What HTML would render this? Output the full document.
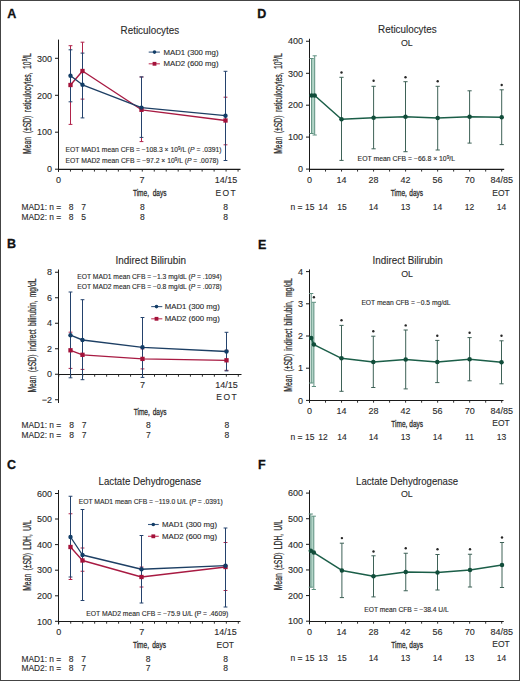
<!DOCTYPE html>
<html><head><meta charset="utf-8"><style>
html,body{margin:0;padding:0;background:#fff;}
body{width:520px;height:681px;overflow:hidden;}
svg{display:block;font-family:"Liberation Sans",sans-serif;}
</style></head><body>
<svg width="520" height="681" viewBox="0 0 520 681">
<rect x="0" y="0" width="520" height="681" fill="#fff"/>
<text x="7.2" y="17.5" font-size="12.5" text-anchor="start" fill="#111" stroke="#111" stroke-width="0.3" font-weight="bold" >A</text>
<text x="6.9" y="248.2" font-size="12.5" text-anchor="start" fill="#111" stroke="#111" stroke-width="0.3" font-weight="bold" >B</text>
<text x="7.0" y="469.0" font-size="12.5" text-anchor="start" fill="#111" stroke="#111" stroke-width="0.3" font-weight="bold" >C</text>
<text x="257.2" y="17.6" font-size="12.5" text-anchor="start" fill="#111" stroke="#111" stroke-width="0.3" font-weight="bold" >D</text>
<text x="258.1" y="248.7" font-size="12.5" text-anchor="start" fill="#111" stroke="#111" stroke-width="0.3" font-weight="bold" >E</text>
<text x="258.1" y="469.4" font-size="12.5" text-anchor="start" fill="#111" stroke="#111" stroke-width="0.3" font-weight="bold" >F</text>
<line x1="58.5" y1="39.6" x2="58.5" y2="171.8" stroke="#1a1a1a" stroke-width="1" />
<line x1="55.0" y1="58.3" x2="58.5" y2="58.3" stroke="#1a1a1a" stroke-width="1" />
<text x="52.0" y="61.5" font-size="9" text-anchor="end" fill="#2b2b2b" stroke="#2b2b2b" stroke-width="0.12" >300</text>
<line x1="55.0" y1="95.3" x2="58.5" y2="95.3" stroke="#1a1a1a" stroke-width="1" />
<text x="52.0" y="98.5" font-size="9" text-anchor="end" fill="#2b2b2b" stroke="#2b2b2b" stroke-width="0.12" >200</text>
<line x1="55.0" y1="132.2" x2="58.5" y2="132.2" stroke="#1a1a1a" stroke-width="1" />
<text x="52.0" y="135.39999999999998" font-size="9" text-anchor="end" fill="#2b2b2b" stroke="#2b2b2b" stroke-width="0.12" >100</text>
<line x1="55.0" y1="169.2" x2="58.5" y2="169.2" stroke="#1a1a1a" stroke-width="1" />
<text x="52.0" y="172.39999999999998" font-size="9" text-anchor="end" fill="#2b2b2b" stroke="#2b2b2b" stroke-width="0.12" >0</text>
<line x1="58.0" y1="169.4" x2="240.5" y2="169.4" stroke="#1a1a1a" stroke-width="1.1" />
<line x1="58.5" y1="169.4" x2="58.5" y2="171.6" stroke="#1a1a1a" stroke-width="0.9" />
<line x1="70.47" y1="169.4" x2="70.47" y2="171.6" stroke="#1a1a1a" stroke-width="0.9" />
<line x1="82.44" y1="169.4" x2="82.44" y2="171.6" stroke="#1a1a1a" stroke-width="0.9" />
<line x1="94.41" y1="169.4" x2="94.41" y2="171.6" stroke="#1a1a1a" stroke-width="0.9" />
<line x1="106.38" y1="169.4" x2="106.38" y2="171.6" stroke="#1a1a1a" stroke-width="0.9" />
<line x1="118.35" y1="169.4" x2="118.35" y2="171.6" stroke="#1a1a1a" stroke-width="0.9" />
<line x1="130.32" y1="169.4" x2="130.32" y2="171.6" stroke="#1a1a1a" stroke-width="0.9" />
<line x1="142.29000000000002" y1="169.4" x2="142.29000000000002" y2="171.6" stroke="#1a1a1a" stroke-width="0.9" />
<line x1="154.26" y1="169.4" x2="154.26" y2="171.6" stroke="#1a1a1a" stroke-width="0.9" />
<line x1="166.23000000000002" y1="169.4" x2="166.23000000000002" y2="171.6" stroke="#1a1a1a" stroke-width="0.9" />
<line x1="178.2" y1="169.4" x2="178.2" y2="171.6" stroke="#1a1a1a" stroke-width="0.9" />
<line x1="190.17000000000002" y1="169.4" x2="190.17000000000002" y2="171.6" stroke="#1a1a1a" stroke-width="0.9" />
<line x1="202.14000000000001" y1="169.4" x2="202.14000000000001" y2="171.6" stroke="#1a1a1a" stroke-width="0.9" />
<line x1="214.11" y1="169.4" x2="214.11" y2="171.6" stroke="#1a1a1a" stroke-width="0.9" />
<line x1="226.08" y1="169.4" x2="226.08" y2="171.6" stroke="#1a1a1a" stroke-width="0.9" />
<line x1="238.05" y1="169.4" x2="238.05" y2="171.6" stroke="#1a1a1a" stroke-width="0.9" />
<text x="120.6" y="34.0" font-size="10.2" text-anchor="start" fill="#2b2b2b" stroke="#2b2b2b" stroke-width="0.12" textLength="58.5" lengthAdjust="spacingAndGlyphs" >Reticulocytes</text>
<text x="30.9" y="153.9" font-size="10" fill="#2b2b2b" stroke="#2b2b2b" stroke-width="0.24" word-spacing="2.42" transform="rotate(-90 30.9 153.9) translate(30.9 153.9) scale(0.68 1) translate(-30.9 -153.9)">Mean (±SD) reticulocytes, 10<tspan dy="-3.40" font-size="6.50">9</tspan><tspan dy="3.40">/L</tspan></text>
<line x1="70.5" y1="45.7" x2="70.5" y2="124.4" stroke="#b0234a" stroke-width="1.0" />
<line x1="68.6" y1="45.7" x2="72.4" y2="45.7" stroke="#b0234a" stroke-width="1.0" />
<line x1="68.6" y1="124.4" x2="72.4" y2="124.4" stroke="#b0234a" stroke-width="1.0" />
<line x1="82.5" y1="42.2" x2="82.5" y2="99.1" stroke="#b0234a" stroke-width="1.0" />
<line x1="80.6" y1="42.2" x2="84.4" y2="42.2" stroke="#b0234a" stroke-width="1.0" />
<line x1="80.6" y1="99.1" x2="84.4" y2="99.1" stroke="#b0234a" stroke-width="1.0" />
<line x1="141.5" y1="77" x2="141.5" y2="141.6" stroke="#b0234a" stroke-width="1.0" />
<line x1="139.6" y1="77" x2="143.4" y2="77" stroke="#b0234a" stroke-width="1.0" />
<line x1="139.6" y1="141.6" x2="143.4" y2="141.6" stroke="#b0234a" stroke-width="1.0" />
<line x1="225.5" y1="97.2" x2="225.5" y2="144.8" stroke="#b0234a" stroke-width="1.0" />
<line x1="223.6" y1="97.2" x2="227.4" y2="97.2" stroke="#b0234a" stroke-width="1.0" />
<line x1="223.6" y1="144.8" x2="227.4" y2="144.8" stroke="#b0234a" stroke-width="1.0" />
<line x1="70.5" y1="49.8" x2="70.5" y2="101.8" stroke="#24426c" stroke-width="1.0" />
<line x1="68.6" y1="49.8" x2="72.4" y2="49.8" stroke="#24426c" stroke-width="1.0" />
<line x1="68.6" y1="101.8" x2="72.4" y2="101.8" stroke="#24426c" stroke-width="1.0" />
<line x1="82.5" y1="53.1" x2="82.5" y2="117.9" stroke="#24426c" stroke-width="1.0" />
<line x1="80.6" y1="53.1" x2="84.4" y2="53.1" stroke="#24426c" stroke-width="1.0" />
<line x1="80.6" y1="117.9" x2="84.4" y2="117.9" stroke="#24426c" stroke-width="1.0" />
<line x1="141.5" y1="76.9" x2="141.5" y2="137.4" stroke="#24426c" stroke-width="1.0" />
<line x1="139.6" y1="76.9" x2="143.4" y2="76.9" stroke="#24426c" stroke-width="1.0" />
<line x1="139.6" y1="137.4" x2="143.4" y2="137.4" stroke="#24426c" stroke-width="1.0" />
<line x1="225.5" y1="71.3" x2="225.5" y2="160.5" stroke="#24426c" stroke-width="1.0" />
<line x1="223.6" y1="71.3" x2="227.4" y2="71.3" stroke="#24426c" stroke-width="1.0" />
<line x1="223.6" y1="160.5" x2="227.4" y2="160.5" stroke="#24426c" stroke-width="1.0" />
<polyline points="70.5,85 82.5,71 141.5,109.8 225.5,120.5" fill="none" stroke="#a81a42" stroke-width="1.35" stroke-linejoin="round"/>
<polyline points="70.5,75.7 82.5,84.8 141.5,107.6 225.5,115.7" fill="none" stroke="#1d3f64" stroke-width="1.35" stroke-linejoin="round"/>
<rect x="68.35" y="82.85" width="4.3" height="4.3" fill="#a3123a"/>
<rect x="80.35" y="68.85" width="4.3" height="4.3" fill="#a3123a"/>
<rect x="139.35" y="107.64999999999999" width="4.3" height="4.3" fill="#a3123a"/>
<rect x="223.35" y="118.35" width="4.3" height="4.3" fill="#a3123a"/>
<circle cx="70.5" cy="75.7" r="2.2" fill="#123d66"/>
<circle cx="82.5" cy="84.8" r="2.2" fill="#123d66"/>
<circle cx="141.5" cy="107.6" r="2.2" fill="#123d66"/>
<circle cx="225.5" cy="115.7" r="2.2" fill="#123d66"/>
<line x1="148.7" y1="52.1" x2="159.9" y2="52.1" stroke="#3a5a82" stroke-width="1.1" />
<circle cx="154.5" cy="52.1" r="1.8" fill="#123d66"/>
<text x="163.5" y="54.6" font-size="7.2" text-anchor="start" fill="#2b2b2b" stroke="#2b2b2b" stroke-width="0.12" textLength="55" lengthAdjust="spacingAndGlyphs" >MAD1 (300 mg)</text>
<line x1="148.7" y1="63.8" x2="159.9" y2="63.8" stroke="#c23a5c" stroke-width="1.1" />
<rect x="152.6" y="61.9" width="3.8" height="3.8" fill="#a3123a"/>
<text x="163.5" y="66.3" font-size="7.2" text-anchor="start" fill="#2b2b2b" stroke="#2b2b2b" stroke-width="0.12" textLength="55" lengthAdjust="spacingAndGlyphs" >MAD2 (600 mg)</text>
<text x="65.5" y="151.75" font-size="6.6" text-anchor="start" fill="#2b2b2b" stroke="#2b2b2b" stroke-width="0.12" textLength="156" lengthAdjust="spacingAndGlyphs" >EOT MAD1 mean CFB = −108.3 × 10<tspan dy="-2" font-size="4.5">9</tspan><tspan dy="2">/L (</tspan><tspan font-style="italic">P</tspan> = .0391)</text>
<text x="65.5" y="162.75" font-size="6.6" text-anchor="start" fill="#2b2b2b" stroke="#2b2b2b" stroke-width="0.12" textLength="153" lengthAdjust="spacingAndGlyphs" >EOT MAD2 mean CFB = −97.2 × 10<tspan dy="-2" font-size="4.5">9</tspan><tspan dy="2">/L (</tspan><tspan font-style="italic">P</tspan> = .0078)</text>
<text x="58.5" y="183" font-size="9" text-anchor="middle" fill="#2b2b2b" stroke="#2b2b2b" stroke-width="0.12" >0</text>
<text x="142" y="183" font-size="9" text-anchor="middle" fill="#2b2b2b" stroke="#2b2b2b" stroke-width="0.12" >7</text>
<text x="226" y="183" font-size="9" text-anchor="middle" fill="#2b2b2b" stroke="#2b2b2b" stroke-width="0.12" >14/15</text>
<text x="226.3" y="196" font-size="8.5" text-anchor="middle" fill="#2b2b2b" stroke="#2b2b2b" stroke-width="0.12" letter-spacing="1.4">EOT</text>
<text x="132.9" y="196.5" font-size="9.4" fill="#2b2b2b" stroke="#2b2b2b" stroke-width="0.3" word-spacing="2.73" transform="translate(132.9 196.5) scale(0.695 1) translate(-132.9 -196.5)">Time, days</text>
<text x="21.5" y="209.5" font-size="8.5" text-anchor="start" fill="#2b2b2b" stroke="#2b2b2b" stroke-width="0.12" textLength="39.7" lengthAdjust="spacingAndGlyphs" >MAD1: n =</text>
<text x="21.5" y="219.5" font-size="8.5" text-anchor="start" fill="#2b2b2b" stroke="#2b2b2b" stroke-width="0.12" textLength="39.7" lengthAdjust="spacingAndGlyphs" >MAD2: n =</text>
<text x="71.1" y="209.5" font-size="8.5" text-anchor="middle" fill="#2b2b2b" stroke="#2b2b2b" stroke-width="0.12" >8</text>
<text x="83.5" y="209.5" font-size="8.5" text-anchor="middle" fill="#2b2b2b" stroke="#2b2b2b" stroke-width="0.12" >7</text>
<text x="142.4" y="209.5" font-size="8.5" text-anchor="middle" fill="#2b2b2b" stroke="#2b2b2b" stroke-width="0.12" >8</text>
<text x="225.5" y="209.5" font-size="8.5" text-anchor="middle" fill="#2b2b2b" stroke="#2b2b2b" stroke-width="0.12" >8</text>
<text x="71.1" y="219.5" font-size="8.5" text-anchor="middle" fill="#2b2b2b" stroke="#2b2b2b" stroke-width="0.12" >8</text>
<text x="83.5" y="219.5" font-size="8.5" text-anchor="middle" fill="#2b2b2b" stroke="#2b2b2b" stroke-width="0.12" >5</text>
<text x="142.4" y="219.5" font-size="8.5" text-anchor="middle" fill="#2b2b2b" stroke="#2b2b2b" stroke-width="0.12" >8</text>
<text x="225.5" y="219.5" font-size="8.5" text-anchor="middle" fill="#2b2b2b" stroke="#2b2b2b" stroke-width="0.12" >8</text>
<line x1="58.5" y1="269.5" x2="58.5" y2="403" stroke="#1a1a1a" stroke-width="1" />
<line x1="55.0" y1="272.25" x2="58.5" y2="272.25" stroke="#1a1a1a" stroke-width="1" />
<text x="52.0" y="275.45" font-size="9" text-anchor="end" fill="#2b2b2b" stroke="#2b2b2b" stroke-width="0.12" >8</text>
<line x1="55.0" y1="297.75" x2="58.5" y2="297.75" stroke="#1a1a1a" stroke-width="1" />
<text x="52.0" y="300.95" font-size="9" text-anchor="end" fill="#2b2b2b" stroke="#2b2b2b" stroke-width="0.12" >6</text>
<line x1="55.0" y1="323.25" x2="58.5" y2="323.25" stroke="#1a1a1a" stroke-width="1" />
<text x="52.0" y="326.45" font-size="9" text-anchor="end" fill="#2b2b2b" stroke="#2b2b2b" stroke-width="0.12" >4</text>
<line x1="55.0" y1="348.75" x2="58.5" y2="348.75" stroke="#1a1a1a" stroke-width="1" />
<text x="52.0" y="351.95" font-size="9" text-anchor="end" fill="#2b2b2b" stroke="#2b2b2b" stroke-width="0.12" >2</text>
<line x1="55.0" y1="374.25" x2="58.5" y2="374.25" stroke="#1a1a1a" stroke-width="1" />
<text x="52.0" y="377.45" font-size="9" text-anchor="end" fill="#2b2b2b" stroke="#2b2b2b" stroke-width="0.12" >0</text>
<line x1="55.0" y1="399.75" x2="58.5" y2="399.75" stroke="#1a1a1a" stroke-width="1" />
<text x="52.0" y="402.95" font-size="9" text-anchor="end" fill="#2b2b2b" stroke="#2b2b2b" stroke-width="0.12" >−2</text>
<line x1="58.0" y1="374.5" x2="241.5" y2="374.5" stroke="#1a1a1a" stroke-width="1.1" />
<line x1="58.75" y1="374.5" x2="58.75" y2="376.7" stroke="#1a1a1a" stroke-width="0.9" />
<line x1="70.72" y1="374.5" x2="70.72" y2="376.7" stroke="#1a1a1a" stroke-width="0.9" />
<line x1="82.69" y1="374.5" x2="82.69" y2="376.7" stroke="#1a1a1a" stroke-width="0.9" />
<line x1="94.66" y1="374.5" x2="94.66" y2="376.7" stroke="#1a1a1a" stroke-width="0.9" />
<line x1="106.63" y1="374.5" x2="106.63" y2="376.7" stroke="#1a1a1a" stroke-width="0.9" />
<line x1="118.6" y1="374.5" x2="118.6" y2="376.7" stroke="#1a1a1a" stroke-width="0.9" />
<line x1="130.57" y1="374.5" x2="130.57" y2="376.7" stroke="#1a1a1a" stroke-width="0.9" />
<line x1="142.54000000000002" y1="374.5" x2="142.54000000000002" y2="376.7" stroke="#1a1a1a" stroke-width="0.9" />
<line x1="154.51" y1="374.5" x2="154.51" y2="376.7" stroke="#1a1a1a" stroke-width="0.9" />
<line x1="166.48000000000002" y1="374.5" x2="166.48000000000002" y2="376.7" stroke="#1a1a1a" stroke-width="0.9" />
<line x1="178.45" y1="374.5" x2="178.45" y2="376.7" stroke="#1a1a1a" stroke-width="0.9" />
<line x1="190.42000000000002" y1="374.5" x2="190.42000000000002" y2="376.7" stroke="#1a1a1a" stroke-width="0.9" />
<line x1="202.39000000000001" y1="374.5" x2="202.39000000000001" y2="376.7" stroke="#1a1a1a" stroke-width="0.9" />
<line x1="214.36" y1="374.5" x2="214.36" y2="376.7" stroke="#1a1a1a" stroke-width="0.9" />
<line x1="226.33" y1="374.5" x2="226.33" y2="376.7" stroke="#1a1a1a" stroke-width="0.9" />
<line x1="238.3" y1="374.5" x2="238.3" y2="376.7" stroke="#1a1a1a" stroke-width="0.9" />
<text x="115.6" y="263.7" font-size="10.2" text-anchor="start" fill="#2b2b2b" stroke="#2b2b2b" stroke-width="0.12" textLength="70.5" lengthAdjust="spacingAndGlyphs" >Indirect Bilirubin</text>
<text x="36.5" y="392.6" font-size="10" fill="#2b2b2b" stroke="#2b2b2b" stroke-width="0.24" word-spacing="2.12" transform="rotate(-90 36.5 392.6) translate(36.5 392.6) scale(0.68 1) translate(-36.5 -392.6)">Mean (±SD) indirect bilirubin, mg/dL</text>
<line x1="70.5" y1="332.20000000000005" x2="70.5" y2="368.4" stroke="#b0234a" stroke-width="1.0" />
<line x1="68.6" y1="332.20000000000005" x2="72.4" y2="332.20000000000005" stroke="#b0234a" stroke-width="1.0" />
<line x1="68.6" y1="368.4" x2="72.4" y2="368.4" stroke="#b0234a" stroke-width="1.0" />
<line x1="82.5" y1="340.20000000000005" x2="82.5" y2="369.4" stroke="#b0234a" stroke-width="1.0" />
<line x1="80.6" y1="340.20000000000005" x2="84.4" y2="340.20000000000005" stroke="#b0234a" stroke-width="1.0" />
<line x1="80.6" y1="369.4" x2="84.4" y2="369.4" stroke="#b0234a" stroke-width="1.0" />
<line x1="142.5" y1="348.9" x2="142.5" y2="368.9" stroke="#b0234a" stroke-width="1.0" />
<line x1="140.6" y1="348.9" x2="144.4" y2="348.9" stroke="#b0234a" stroke-width="1.0" />
<line x1="140.6" y1="368.9" x2="144.4" y2="368.9" stroke="#b0234a" stroke-width="1.0" />
<line x1="226.5" y1="350.3" x2="226.5" y2="370.3" stroke="#b0234a" stroke-width="1.0" />
<line x1="224.6" y1="350.3" x2="228.4" y2="350.3" stroke="#b0234a" stroke-width="1.0" />
<line x1="224.6" y1="370.3" x2="228.4" y2="370.3" stroke="#b0234a" stroke-width="1.0" />
<line x1="70.5" y1="292" x2="70.5" y2="377.8" stroke="#24426c" stroke-width="1.0" />
<line x1="68.6" y1="292" x2="72.4" y2="292" stroke="#24426c" stroke-width="1.0" />
<line x1="68.6" y1="377.8" x2="72.4" y2="377.8" stroke="#24426c" stroke-width="1.0" />
<line x1="82.5" y1="299.7" x2="82.5" y2="379.7" stroke="#24426c" stroke-width="1.0" />
<line x1="80.6" y1="299.7" x2="84.4" y2="299.7" stroke="#24426c" stroke-width="1.0" />
<line x1="80.6" y1="379.7" x2="84.4" y2="379.7" stroke="#24426c" stroke-width="1.0" />
<line x1="142.5" y1="317.5" x2="142.5" y2="377.4" stroke="#24426c" stroke-width="1.0" />
<line x1="140.6" y1="317.5" x2="144.4" y2="317.5" stroke="#24426c" stroke-width="1.0" />
<line x1="140.6" y1="377.4" x2="144.4" y2="377.4" stroke="#24426c" stroke-width="1.0" />
<line x1="226.5" y1="332.3" x2="226.5" y2="370.9" stroke="#24426c" stroke-width="1.0" />
<line x1="224.6" y1="332.3" x2="228.4" y2="332.3" stroke="#24426c" stroke-width="1.0" />
<line x1="224.6" y1="370.9" x2="228.4" y2="370.9" stroke="#24426c" stroke-width="1.0" />
<polyline points="70.5,350.3 82.5,354.8 142.5,358.9 226.5,360.3" fill="none" stroke="#a81a42" stroke-width="1.35" stroke-linejoin="round"/>
<polyline points="70.5,335.2 82.5,340 142.5,347.3 226.5,351.5" fill="none" stroke="#1d3f64" stroke-width="1.35" stroke-linejoin="round"/>
<rect x="68.35" y="348.15000000000003" width="4.3" height="4.3" fill="#a3123a"/>
<rect x="80.35" y="352.65000000000003" width="4.3" height="4.3" fill="#a3123a"/>
<rect x="140.35" y="356.75" width="4.3" height="4.3" fill="#a3123a"/>
<rect x="224.35" y="358.15000000000003" width="4.3" height="4.3" fill="#a3123a"/>
<circle cx="70.5" cy="335.2" r="2.2" fill="#123d66"/>
<circle cx="82.5" cy="340" r="2.2" fill="#123d66"/>
<circle cx="142.5" cy="347.3" r="2.2" fill="#123d66"/>
<circle cx="226.5" cy="351.5" r="2.2" fill="#123d66"/>
<line x1="151.2" y1="306.6" x2="162.3" y2="306.6" stroke="#3a5a82" stroke-width="1.1" />
<circle cx="156.5" cy="306.6" r="1.8" fill="#123d66"/>
<text x="164.8" y="309.1" font-size="7.2" text-anchor="start" fill="#2b2b2b" stroke="#2b2b2b" stroke-width="0.12" textLength="55" lengthAdjust="spacingAndGlyphs" >MAD1 (300 mg)</text>
<line x1="151.2" y1="318.8" x2="162.3" y2="318.8" stroke="#c23a5c" stroke-width="1.1" />
<rect x="154.6" y="316.90000000000003" width="3.8" height="3.8" fill="#a3123a"/>
<text x="164.8" y="321.3" font-size="7.2" text-anchor="start" fill="#2b2b2b" stroke="#2b2b2b" stroke-width="0.12" textLength="55" lengthAdjust="spacingAndGlyphs" >MAD2 (600 mg)</text>
<text x="77.3" y="278.8" font-size="6.3" text-anchor="start" fill="#2b2b2b" stroke="#2b2b2b" stroke-width="0.12" textLength="144.5" lengthAdjust="spacingAndGlyphs" >EOT MAD1 mean CFB = −1.3 mg/dL (<tspan font-style="italic">P</tspan> = .1094)</text>
<text x="77.3" y="289.4" font-size="6.3" text-anchor="start" fill="#2b2b2b" stroke="#2b2b2b" stroke-width="0.12" textLength="144.5" lengthAdjust="spacingAndGlyphs" >EOT MAD2 mean CFB = −0.8 mg/dL (<tspan font-style="italic">P</tspan> = .0078)</text>
<text x="142.4" y="388" font-size="9" text-anchor="middle" fill="#2b2b2b" stroke="#2b2b2b" stroke-width="0.12" >7</text>
<text x="226.5" y="388" font-size="9" text-anchor="middle" fill="#2b2b2b" stroke="#2b2b2b" stroke-width="0.12" >14/15</text>
<text x="227.2" y="400" font-size="8.5" text-anchor="middle" fill="#2b2b2b" stroke="#2b2b2b" stroke-width="0.12" letter-spacing="1.4">EOT</text>
<text x="133.7" y="414.8" font-size="9.4" fill="#2b2b2b" stroke="#2b2b2b" stroke-width="0.3" word-spacing="1.57" transform="translate(133.7 414.8) scale(0.695 1) translate(-133.7 -414.8)">Time, days</text>
<text x="21.5" y="428" font-size="8.5" text-anchor="start" fill="#2b2b2b" stroke="#2b2b2b" stroke-width="0.12" textLength="39.7" lengthAdjust="spacingAndGlyphs" >MAD1: n =</text>
<text x="21.5" y="437.6" font-size="8.5" text-anchor="start" fill="#2b2b2b" stroke="#2b2b2b" stroke-width="0.12" textLength="39.7" lengthAdjust="spacingAndGlyphs" >MAD2: n =</text>
<text x="71.5" y="428" font-size="8.5" text-anchor="middle" fill="#2b2b2b" stroke="#2b2b2b" stroke-width="0.12" >8</text>
<text x="84" y="428" font-size="8.5" text-anchor="middle" fill="#2b2b2b" stroke="#2b2b2b" stroke-width="0.12" >7</text>
<text x="148.3" y="428" font-size="8.5" text-anchor="middle" fill="#2b2b2b" stroke="#2b2b2b" stroke-width="0.12" >8</text>
<text x="226.8" y="428" font-size="8.5" text-anchor="middle" fill="#2b2b2b" stroke="#2b2b2b" stroke-width="0.12" >8</text>
<text x="71.5" y="437.6" font-size="8.5" text-anchor="middle" fill="#2b2b2b" stroke="#2b2b2b" stroke-width="0.12" >8</text>
<text x="84" y="437.6" font-size="8.5" text-anchor="middle" fill="#2b2b2b" stroke="#2b2b2b" stroke-width="0.12" >7</text>
<text x="148.3" y="437.6" font-size="8.5" text-anchor="middle" fill="#2b2b2b" stroke="#2b2b2b" stroke-width="0.12" >7</text>
<text x="226.8" y="437.6" font-size="8.5" text-anchor="middle" fill="#2b2b2b" stroke="#2b2b2b" stroke-width="0.12" >8</text>
<line x1="58.5" y1="490" x2="58.5" y2="624.5" stroke="#1a1a1a" stroke-width="1" />
<line x1="55.0" y1="493.5" x2="58.5" y2="493.5" stroke="#1a1a1a" stroke-width="1" />
<text x="52.0" y="496.7" font-size="9" text-anchor="end" fill="#2b2b2b" stroke="#2b2b2b" stroke-width="0.12" >600</text>
<line x1="55.0" y1="519.0" x2="58.5" y2="519.0" stroke="#1a1a1a" stroke-width="1" />
<text x="52.0" y="522.2" font-size="9" text-anchor="end" fill="#2b2b2b" stroke="#2b2b2b" stroke-width="0.12" >500</text>
<line x1="55.0" y1="544.6" x2="58.5" y2="544.6" stroke="#1a1a1a" stroke-width="1" />
<text x="52.0" y="547.8000000000001" font-size="9" text-anchor="end" fill="#2b2b2b" stroke="#2b2b2b" stroke-width="0.12" >400</text>
<line x1="55.0" y1="570.2" x2="58.5" y2="570.2" stroke="#1a1a1a" stroke-width="1" />
<text x="52.0" y="573.4000000000001" font-size="9" text-anchor="end" fill="#2b2b2b" stroke="#2b2b2b" stroke-width="0.12" >300</text>
<line x1="55.0" y1="595.8" x2="58.5" y2="595.8" stroke="#1a1a1a" stroke-width="1" />
<text x="52.0" y="599.0" font-size="9" text-anchor="end" fill="#2b2b2b" stroke="#2b2b2b" stroke-width="0.12" >200</text>
<line x1="55.0" y1="621.3" x2="58.5" y2="621.3" stroke="#1a1a1a" stroke-width="1" />
<text x="52.0" y="624.5" font-size="9" text-anchor="end" fill="#2b2b2b" stroke="#2b2b2b" stroke-width="0.12" >100</text>
<line x1="58.0" y1="621.5" x2="240.5" y2="621.5" stroke="#1a1a1a" stroke-width="1.1" />
<line x1="58.75" y1="621.5" x2="58.75" y2="623.7" stroke="#1a1a1a" stroke-width="0.9" />
<line x1="70.72" y1="621.5" x2="70.72" y2="623.7" stroke="#1a1a1a" stroke-width="0.9" />
<line x1="82.69" y1="621.5" x2="82.69" y2="623.7" stroke="#1a1a1a" stroke-width="0.9" />
<line x1="94.66" y1="621.5" x2="94.66" y2="623.7" stroke="#1a1a1a" stroke-width="0.9" />
<line x1="106.63" y1="621.5" x2="106.63" y2="623.7" stroke="#1a1a1a" stroke-width="0.9" />
<line x1="118.6" y1="621.5" x2="118.6" y2="623.7" stroke="#1a1a1a" stroke-width="0.9" />
<line x1="130.57" y1="621.5" x2="130.57" y2="623.7" stroke="#1a1a1a" stroke-width="0.9" />
<line x1="142.54000000000002" y1="621.5" x2="142.54000000000002" y2="623.7" stroke="#1a1a1a" stroke-width="0.9" />
<line x1="154.51" y1="621.5" x2="154.51" y2="623.7" stroke="#1a1a1a" stroke-width="0.9" />
<line x1="166.48000000000002" y1="621.5" x2="166.48000000000002" y2="623.7" stroke="#1a1a1a" stroke-width="0.9" />
<line x1="178.45" y1="621.5" x2="178.45" y2="623.7" stroke="#1a1a1a" stroke-width="0.9" />
<line x1="190.42000000000002" y1="621.5" x2="190.42000000000002" y2="623.7" stroke="#1a1a1a" stroke-width="0.9" />
<line x1="202.39000000000001" y1="621.5" x2="202.39000000000001" y2="623.7" stroke="#1a1a1a" stroke-width="0.9" />
<line x1="214.36" y1="621.5" x2="214.36" y2="623.7" stroke="#1a1a1a" stroke-width="0.9" />
<line x1="226.33" y1="621.5" x2="226.33" y2="623.7" stroke="#1a1a1a" stroke-width="0.9" />
<line x1="238.3" y1="621.5" x2="238.3" y2="623.7" stroke="#1a1a1a" stroke-width="0.9" />
<text x="98.6" y="485.0" font-size="10.2" text-anchor="start" fill="#2b2b2b" stroke="#2b2b2b" stroke-width="0.12" textLength="102.5" lengthAdjust="spacingAndGlyphs" >Lactate Dehydrogenase</text>
<text x="31.2" y="590.8" font-size="10" fill="#2b2b2b" stroke="#2b2b2b" stroke-width="0.24" word-spacing="1.98" transform="rotate(-90 31.2 590.8) translate(31.2 590.8) scale(0.68 1) translate(-31.2 -590.8)">Mean (±SD) LDH, U/L</text>
<line x1="70.5" y1="513.75" x2="70.5" y2="579.5" stroke="#b0234a" stroke-width="1.0" />
<line x1="68.6" y1="513.75" x2="72.4" y2="513.75" stroke="#b0234a" stroke-width="1.0" />
<line x1="68.6" y1="579.5" x2="72.4" y2="579.5" stroke="#b0234a" stroke-width="1.0" />
<line x1="82.5" y1="548" x2="82.5" y2="571.25" stroke="#b0234a" stroke-width="1.0" />
<line x1="80.6" y1="548" x2="84.4" y2="548" stroke="#b0234a" stroke-width="1.0" />
<line x1="80.6" y1="571.25" x2="84.4" y2="571.25" stroke="#b0234a" stroke-width="1.0" />
<line x1="141.5" y1="567" x2="141.5" y2="587" stroke="#b0234a" stroke-width="1.0" />
<line x1="139.6" y1="567" x2="143.4" y2="567" stroke="#b0234a" stroke-width="1.0" />
<line x1="139.6" y1="587" x2="143.4" y2="587" stroke="#b0234a" stroke-width="1.0" />
<line x1="225.5" y1="542.5" x2="225.5" y2="590.5" stroke="#b0234a" stroke-width="1.0" />
<line x1="223.6" y1="542.5" x2="227.4" y2="542.5" stroke="#b0234a" stroke-width="1.0" />
<line x1="223.6" y1="590.5" x2="227.4" y2="590.5" stroke="#b0234a" stroke-width="1.0" />
<line x1="70.5" y1="496.25" x2="70.5" y2="577" stroke="#24426c" stroke-width="1.0" />
<line x1="68.6" y1="496.25" x2="72.4" y2="496.25" stroke="#24426c" stroke-width="1.0" />
<line x1="68.6" y1="577" x2="72.4" y2="577" stroke="#24426c" stroke-width="1.0" />
<line x1="82.5" y1="509.5" x2="82.5" y2="600.5" stroke="#24426c" stroke-width="1.0" />
<line x1="80.6" y1="509.5" x2="84.4" y2="509.5" stroke="#24426c" stroke-width="1.0" />
<line x1="80.6" y1="600.5" x2="84.4" y2="600.5" stroke="#24426c" stroke-width="1.0" />
<line x1="141.5" y1="535.5" x2="141.5" y2="603" stroke="#24426c" stroke-width="1.0" />
<line x1="139.6" y1="535.5" x2="143.4" y2="535.5" stroke="#24426c" stroke-width="1.0" />
<line x1="139.6" y1="603" x2="143.4" y2="603" stroke="#24426c" stroke-width="1.0" />
<line x1="225.5" y1="528" x2="225.5" y2="607" stroke="#24426c" stroke-width="1.0" />
<line x1="223.6" y1="528" x2="227.4" y2="528" stroke="#24426c" stroke-width="1.0" />
<line x1="223.6" y1="607" x2="227.4" y2="607" stroke="#24426c" stroke-width="1.0" />
<polyline points="70.5,547 82.5,560.5 141.5,577 225.5,567" fill="none" stroke="#a81a42" stroke-width="1.35" stroke-linejoin="round"/>
<polyline points="70.5,537 82.5,555 141.5,569.25 225.5,565.7" fill="none" stroke="#1d3f64" stroke-width="1.35" stroke-linejoin="round"/>
<rect x="68.35" y="544.85" width="4.3" height="4.3" fill="#a3123a"/>
<rect x="80.35" y="558.35" width="4.3" height="4.3" fill="#a3123a"/>
<rect x="139.35" y="574.85" width="4.3" height="4.3" fill="#a3123a"/>
<rect x="223.35" y="564.85" width="4.3" height="4.3" fill="#a3123a"/>
<circle cx="70.5" cy="537" r="2.2" fill="#123d66"/>
<circle cx="82.5" cy="555" r="2.2" fill="#123d66"/>
<circle cx="141.5" cy="569.25" r="2.2" fill="#123d66"/>
<circle cx="225.5" cy="565.7" r="2.2" fill="#123d66"/>
<line x1="148" y1="524.5" x2="158.75" y2="524.5" stroke="#3a5a82" stroke-width="1.1" />
<circle cx="153.3" cy="524.5" r="1.8" fill="#123d66"/>
<text x="162" y="527" font-size="7.2" text-anchor="start" fill="#2b2b2b" stroke="#2b2b2b" stroke-width="0.12" textLength="55" lengthAdjust="spacingAndGlyphs" >MAD1 (300 mg)</text>
<line x1="148" y1="536.3" x2="158.75" y2="536.3" stroke="#c23a5c" stroke-width="1.1" />
<rect x="151.4" y="534.4" width="3.8" height="3.8" fill="#a3123a"/>
<text x="162" y="538.8" font-size="7.2" text-anchor="start" fill="#2b2b2b" stroke="#2b2b2b" stroke-width="0.12" textLength="55" lengthAdjust="spacingAndGlyphs" >MAD2 (600 mg)</text>
<text x="78.75" y="503.75" font-size="6.3" text-anchor="start" fill="#2b2b2b" stroke="#2b2b2b" stroke-width="0.12" textLength="144" lengthAdjust="spacingAndGlyphs" >EOT MAD1 mean CFB = −119.0 U/L (<tspan font-style="italic">P</tspan> = .0391)</text>
<text x="86.25" y="616.25" font-size="6.3" text-anchor="start" fill="#2b2b2b" stroke="#2b2b2b" stroke-width="0.12" textLength="142" lengthAdjust="spacingAndGlyphs" >EOT MAD2 mean CFB = −75.9 U/L (P = .4609)</text>
<text x="58.75" y="634.8" font-size="9" text-anchor="middle" fill="#2b2b2b" stroke="#2b2b2b" stroke-width="0.12" >0</text>
<text x="141.8" y="634.8" font-size="9" text-anchor="middle" fill="#2b2b2b" stroke="#2b2b2b" stroke-width="0.12" >7</text>
<text x="225.5" y="634.8" font-size="9" text-anchor="middle" fill="#2b2b2b" stroke="#2b2b2b" stroke-width="0.12" >14/15</text>
<text x="225.3" y="648.3" font-size="8.5" text-anchor="middle" fill="#2b2b2b" stroke="#2b2b2b" stroke-width="0.12" >EOT</text>
<text x="132.9" y="648.3" font-size="9.4" fill="#2b2b2b" stroke="#2b2b2b" stroke-width="0.3" word-spacing="2.01" transform="translate(132.9 648.3) scale(0.695 1) translate(-132.9 -648.3)">Time, days</text>
<text x="21.5" y="661.7" font-size="8.5" text-anchor="start" fill="#2b2b2b" stroke="#2b2b2b" stroke-width="0.12" textLength="39.7" lengthAdjust="spacingAndGlyphs" >MAD1: n =</text>
<text x="21.5" y="671.2" font-size="8.5" text-anchor="start" fill="#2b2b2b" stroke="#2b2b2b" stroke-width="0.12" textLength="39.7" lengthAdjust="spacingAndGlyphs" >MAD2: n =</text>
<text x="71.1" y="661.7" font-size="8.5" text-anchor="middle" fill="#2b2b2b" stroke="#2b2b2b" stroke-width="0.12" >8</text>
<text x="83.5" y="661.7" font-size="8.5" text-anchor="middle" fill="#2b2b2b" stroke="#2b2b2b" stroke-width="0.12" >7</text>
<text x="148" y="661.7" font-size="8.5" text-anchor="middle" fill="#2b2b2b" stroke="#2b2b2b" stroke-width="0.12" >8</text>
<text x="225.5" y="661.7" font-size="8.5" text-anchor="middle" fill="#2b2b2b" stroke="#2b2b2b" stroke-width="0.12" >8</text>
<text x="71.1" y="671.2" font-size="8.5" text-anchor="middle" fill="#2b2b2b" stroke="#2b2b2b" stroke-width="0.12" >8</text>
<text x="83.5" y="671.2" font-size="8.5" text-anchor="middle" fill="#2b2b2b" stroke="#2b2b2b" stroke-width="0.12" >7</text>
<text x="148" y="671.2" font-size="8.5" text-anchor="middle" fill="#2b2b2b" stroke="#2b2b2b" stroke-width="0.12" >7</text>
<text x="225.5" y="671.2" font-size="8.5" text-anchor="middle" fill="#2b2b2b" stroke="#2b2b2b" stroke-width="0.12" >8</text>
<line x1="309.5" y1="38.75" x2="309.5" y2="171.8" stroke="#1a1a1a" stroke-width="1" />
<line x1="306.0" y1="41.25" x2="309.5" y2="41.25" stroke="#1a1a1a" stroke-width="1" />
<text x="303.0" y="44.45" font-size="9" text-anchor="end" fill="#2b2b2b" stroke="#2b2b2b" stroke-width="0.12" >400</text>
<line x1="306.0" y1="73.3" x2="309.5" y2="73.3" stroke="#1a1a1a" stroke-width="1" />
<text x="303.0" y="76.5" font-size="9" text-anchor="end" fill="#2b2b2b" stroke="#2b2b2b" stroke-width="0.12" >300</text>
<line x1="306.0" y1="105.2" x2="309.5" y2="105.2" stroke="#1a1a1a" stroke-width="1" />
<text x="303.0" y="108.4" font-size="9" text-anchor="end" fill="#2b2b2b" stroke="#2b2b2b" stroke-width="0.12" >200</text>
<line x1="306.0" y1="137.1" x2="309.5" y2="137.1" stroke="#1a1a1a" stroke-width="1" />
<text x="303.0" y="140.29999999999998" font-size="9" text-anchor="end" fill="#2b2b2b" stroke="#2b2b2b" stroke-width="0.12" >100</text>
<line x1="306.0" y1="169.1" x2="309.5" y2="169.1" stroke="#1a1a1a" stroke-width="1" />
<text x="303.0" y="172.29999999999998" font-size="9" text-anchor="end" fill="#2b2b2b" stroke="#2b2b2b" stroke-width="0.12" >0</text>
<line x1="309.0" y1="169.4" x2="504.2" y2="169.4" stroke="#1a1a1a" stroke-width="1.1" />
<line x1="309.5" y1="169.4" x2="309.5" y2="171.6" stroke="#1a1a1a" stroke-width="0.9" />
<line x1="325.516" y1="169.4" x2="325.516" y2="171.6" stroke="#1a1a1a" stroke-width="0.9" />
<line x1="341.532" y1="169.4" x2="341.532" y2="171.6" stroke="#1a1a1a" stroke-width="0.9" />
<line x1="357.548" y1="169.4" x2="357.548" y2="171.6" stroke="#1a1a1a" stroke-width="0.9" />
<line x1="373.56399999999996" y1="169.4" x2="373.56399999999996" y2="171.6" stroke="#1a1a1a" stroke-width="0.9" />
<line x1="389.58" y1="169.4" x2="389.58" y2="171.6" stroke="#1a1a1a" stroke-width="0.9" />
<line x1="405.596" y1="169.4" x2="405.596" y2="171.6" stroke="#1a1a1a" stroke-width="0.9" />
<line x1="421.61199999999997" y1="169.4" x2="421.61199999999997" y2="171.6" stroke="#1a1a1a" stroke-width="0.9" />
<line x1="437.628" y1="169.4" x2="437.628" y2="171.6" stroke="#1a1a1a" stroke-width="0.9" />
<line x1="453.644" y1="169.4" x2="453.644" y2="171.6" stroke="#1a1a1a" stroke-width="0.9" />
<line x1="469.65999999999997" y1="169.4" x2="469.65999999999997" y2="171.6" stroke="#1a1a1a" stroke-width="0.9" />
<line x1="485.676" y1="169.4" x2="485.676" y2="171.6" stroke="#1a1a1a" stroke-width="0.9" />
<line x1="501.692" y1="169.4" x2="501.692" y2="171.6" stroke="#1a1a1a" stroke-width="0.9" />
<text x="378.1" y="32.9" font-size="10.2" text-anchor="start" fill="#2b2b2b" stroke="#2b2b2b" stroke-width="0.12" textLength="58.5" lengthAdjust="spacingAndGlyphs" >Reticulocytes</text>
<text x="406.8" y="46.3" font-size="8.8" text-anchor="middle" fill="#2b2b2b" stroke="#2b2b2b" stroke-width="0.12" >OL</text>
<text x="281.8" y="153.8" font-size="10" fill="#2b2b2b" stroke="#2b2b2b" stroke-width="0.24" word-spacing="2.37" transform="rotate(-90 281.8 153.8) translate(281.8 153.8) scale(0.68 1) translate(-281.8 -153.8)">Mean (±SD) reticulocytes, 10<tspan dy="-3.40" font-size="6.50">9</tspan><tspan dy="3.40">/L</tspan></text>
<rect x="311.6" y="58.5" width="3.099999999999966" height="75.0" fill="#b3d5c8"/>
<line x1="311.6" y1="58.5" x2="311.6" y2="133.5" stroke="#5f9080" stroke-width="1.0" />
<line x1="309.5" y1="58.5" x2="313.70000000000005" y2="58.5" stroke="#5f9080" stroke-width="1.0" />
<line x1="309.5" y1="133.5" x2="313.70000000000005" y2="133.5" stroke="#5f9080" stroke-width="1.0" />
<line x1="314.7" y1="55.8" x2="314.7" y2="135" stroke="#5f9080" stroke-width="1.0" />
<line x1="312.59999999999997" y1="55.8" x2="316.8" y2="55.8" stroke="#5f9080" stroke-width="1.0" />
<line x1="312.59999999999997" y1="135" x2="316.8" y2="135" stroke="#5f9080" stroke-width="1.0" />
<line x1="341.5" y1="77.3" x2="341.5" y2="160.4" stroke="#3e6257" stroke-width="1.0" />
<line x1="339.4" y1="77.3" x2="343.6" y2="77.3" stroke="#3e6257" stroke-width="1.0" />
<line x1="339.4" y1="160.4" x2="343.6" y2="160.4" stroke="#3e6257" stroke-width="1.0" />
<line x1="373.6" y1="86.3" x2="373.6" y2="148.8" stroke="#3e6257" stroke-width="1.0" />
<line x1="371.5" y1="86.3" x2="375.70000000000005" y2="86.3" stroke="#3e6257" stroke-width="1.0" />
<line x1="371.5" y1="148.8" x2="375.70000000000005" y2="148.8" stroke="#3e6257" stroke-width="1.0" />
<line x1="405.5" y1="81.7" x2="405.5" y2="151.7" stroke="#3e6257" stroke-width="1.0" />
<line x1="403.4" y1="81.7" x2="407.6" y2="81.7" stroke="#3e6257" stroke-width="1.0" />
<line x1="403.4" y1="151.7" x2="407.6" y2="151.7" stroke="#3e6257" stroke-width="1.0" />
<line x1="437.7" y1="86.3" x2="437.7" y2="150" stroke="#3e6257" stroke-width="1.0" />
<line x1="435.59999999999997" y1="86.3" x2="439.8" y2="86.3" stroke="#3e6257" stroke-width="1.0" />
<line x1="435.59999999999997" y1="150" x2="439.8" y2="150" stroke="#3e6257" stroke-width="1.0" />
<line x1="469.6" y1="90.8" x2="469.6" y2="143.1" stroke="#3e6257" stroke-width="1.0" />
<line x1="467.5" y1="90.8" x2="471.70000000000005" y2="90.8" stroke="#3e6257" stroke-width="1.0" />
<line x1="467.5" y1="143.1" x2="471.70000000000005" y2="143.1" stroke="#3e6257" stroke-width="1.0" />
<line x1="501.7" y1="89.8" x2="501.7" y2="144.6" stroke="#3e6257" stroke-width="1.0" />
<line x1="499.59999999999997" y1="89.8" x2="503.8" y2="89.8" stroke="#3e6257" stroke-width="1.0" />
<line x1="499.59999999999997" y1="144.6" x2="503.8" y2="144.6" stroke="#3e6257" stroke-width="1.0" />
<polyline points="311.6,95.5 314.7,95.5 341.5,119.2 373.6,117.7 405.5,116.7 437.7,118.1 469.6,116.7 501.7,117.3" fill="none" stroke="#1b5e48" stroke-width="1.5" stroke-linejoin="round"/>
<circle cx="311.6" cy="95.5" r="2.25" fill="#114d3a"/>
<circle cx="314.7" cy="95.5" r="2.25" fill="#114d3a"/>
<circle cx="341.5" cy="119.2" r="2.25" fill="#114d3a"/>
<circle cx="373.6" cy="117.7" r="2.25" fill="#114d3a"/>
<circle cx="405.5" cy="116.7" r="2.25" fill="#114d3a"/>
<circle cx="437.7" cy="118.1" r="2.25" fill="#114d3a"/>
<circle cx="469.6" cy="116.7" r="2.25" fill="#114d3a"/>
<circle cx="501.7" cy="117.3" r="2.25" fill="#114d3a"/>
<circle cx="341.5" cy="72.5" r="1.2" fill="#262626"/>
<circle cx="373.6" cy="80.8" r="1.2" fill="#262626"/>
<circle cx="405.5" cy="77.3" r="1.2" fill="#262626"/>
<circle cx="437.7" cy="81.2" r="1.2" fill="#262626"/>
<circle cx="501.7" cy="85" r="1.2" fill="#262626"/>
<text x="357.6" y="160.8" font-size="6.3" text-anchor="start" fill="#2b2b2b" stroke="#2b2b2b" stroke-width="0.12" textLength="97.5" lengthAdjust="spacingAndGlyphs" >EOT mean CFB = −66.8 × 10<tspan dy="-2" font-size="4.5">9</tspan><tspan dy="2">/L</tspan></text>
<text x="309.5" y="183" font-size="9" text-anchor="middle" fill="#2b2b2b" stroke="#2b2b2b" stroke-width="0.12" >0</text>
<text x="341.532" y="183" font-size="9" text-anchor="middle" fill="#2b2b2b" stroke="#2b2b2b" stroke-width="0.12" >14</text>
<text x="373.56399999999996" y="183" font-size="9" text-anchor="middle" fill="#2b2b2b" stroke="#2b2b2b" stroke-width="0.12" >28</text>
<text x="405.596" y="183" font-size="9" text-anchor="middle" fill="#2b2b2b" stroke="#2b2b2b" stroke-width="0.12" >42</text>
<text x="437.628" y="183" font-size="9" text-anchor="middle" fill="#2b2b2b" stroke="#2b2b2b" stroke-width="0.12" >56</text>
<text x="469.65999999999997" y="183" font-size="9" text-anchor="middle" fill="#2b2b2b" stroke="#2b2b2b" stroke-width="0.12" >70</text>
<text x="501.692" y="183" font-size="9" text-anchor="middle" fill="#2b2b2b" stroke="#2b2b2b" stroke-width="0.12" >84/85</text>
<text x="501" y="195.5" font-size="8.5" text-anchor="middle" fill="#2b2b2b" stroke="#2b2b2b" stroke-width="0.12" >EOT</text>
<text x="390.8" y="196.1" font-size="9.4" fill="#2b2b2b" stroke="#2b2b2b" stroke-width="0.3" word-spacing="0.85" transform="translate(390.8 196.1) scale(0.695 1) translate(-390.8 -196.1)">Time, days</text>
<text x="290.5" y="209.8" font-size="8.5" text-anchor="start" fill="#2b2b2b" stroke="#2b2b2b" stroke-width="0.12" >n = 15</text>
<text x="323" y="209.8" font-size="8.5" text-anchor="middle" fill="#2b2b2b" stroke="#2b2b2b" stroke-width="0.12" >14</text>
<text x="341.9" y="209.8" font-size="8.5" text-anchor="middle" fill="#2b2b2b" stroke="#2b2b2b" stroke-width="0.12" >15</text>
<text x="373.5" y="209.8" font-size="8.5" text-anchor="middle" fill="#2b2b2b" stroke="#2b2b2b" stroke-width="0.12" >14</text>
<text x="405.6" y="209.8" font-size="8.5" text-anchor="middle" fill="#2b2b2b" stroke="#2b2b2b" stroke-width="0.12" >13</text>
<text x="437.5" y="209.8" font-size="8.5" text-anchor="middle" fill="#2b2b2b" stroke="#2b2b2b" stroke-width="0.12" >14</text>
<text x="469.5" y="209.8" font-size="8.5" text-anchor="middle" fill="#2b2b2b" stroke="#2b2b2b" stroke-width="0.12" >12</text>
<text x="501.5" y="209.8" font-size="8.5" text-anchor="middle" fill="#2b2b2b" stroke="#2b2b2b" stroke-width="0.12" >14</text>
<line x1="309.5" y1="269.4" x2="309.5" y2="402.8" stroke="#1a1a1a" stroke-width="1" />
<line x1="306.0" y1="271.59999999999997" x2="309.5" y2="271.59999999999997" stroke="#1a1a1a" stroke-width="1" />
<text x="303.0" y="274.79999999999995" font-size="9" text-anchor="end" fill="#2b2b2b" stroke="#2b2b2b" stroke-width="0.12" >4</text>
<line x1="306.0" y1="303.79999999999995" x2="309.5" y2="303.79999999999995" stroke="#1a1a1a" stroke-width="1" />
<text x="303.0" y="306.99999999999994" font-size="9" text-anchor="end" fill="#2b2b2b" stroke="#2b2b2b" stroke-width="0.12" >3</text>
<line x1="306.0" y1="336.0" x2="309.5" y2="336.0" stroke="#1a1a1a" stroke-width="1" />
<text x="303.0" y="339.2" font-size="9" text-anchor="end" fill="#2b2b2b" stroke="#2b2b2b" stroke-width="0.12" >2</text>
<line x1="306.0" y1="368.2" x2="309.5" y2="368.2" stroke="#1a1a1a" stroke-width="1" />
<text x="303.0" y="371.4" font-size="9" text-anchor="end" fill="#2b2b2b" stroke="#2b2b2b" stroke-width="0.12" >1</text>
<line x1="306.0" y1="400.4" x2="309.5" y2="400.4" stroke="#1a1a1a" stroke-width="1" />
<text x="303.0" y="403.59999999999997" font-size="9" text-anchor="end" fill="#2b2b2b" stroke="#2b2b2b" stroke-width="0.12" >0</text>
<line x1="309.0" y1="400.5" x2="503.5" y2="400.5" stroke="#1a1a1a" stroke-width="1.1" />
<line x1="309.5" y1="400.5" x2="309.5" y2="402.7" stroke="#1a1a1a" stroke-width="0.9" />
<line x1="325.516" y1="400.5" x2="325.516" y2="402.7" stroke="#1a1a1a" stroke-width="0.9" />
<line x1="341.532" y1="400.5" x2="341.532" y2="402.7" stroke="#1a1a1a" stroke-width="0.9" />
<line x1="357.548" y1="400.5" x2="357.548" y2="402.7" stroke="#1a1a1a" stroke-width="0.9" />
<line x1="373.56399999999996" y1="400.5" x2="373.56399999999996" y2="402.7" stroke="#1a1a1a" stroke-width="0.9" />
<line x1="389.58" y1="400.5" x2="389.58" y2="402.7" stroke="#1a1a1a" stroke-width="0.9" />
<line x1="405.596" y1="400.5" x2="405.596" y2="402.7" stroke="#1a1a1a" stroke-width="0.9" />
<line x1="421.61199999999997" y1="400.5" x2="421.61199999999997" y2="402.7" stroke="#1a1a1a" stroke-width="0.9" />
<line x1="437.628" y1="400.5" x2="437.628" y2="402.7" stroke="#1a1a1a" stroke-width="0.9" />
<line x1="453.644" y1="400.5" x2="453.644" y2="402.7" stroke="#1a1a1a" stroke-width="0.9" />
<line x1="469.65999999999997" y1="400.5" x2="469.65999999999997" y2="402.7" stroke="#1a1a1a" stroke-width="0.9" />
<line x1="485.676" y1="400.5" x2="485.676" y2="402.7" stroke="#1a1a1a" stroke-width="0.9" />
<line x1="501.692" y1="400.5" x2="501.692" y2="402.7" stroke="#1a1a1a" stroke-width="0.9" />
<text x="372.6" y="263.8" font-size="10.2" text-anchor="start" fill="#2b2b2b" stroke="#2b2b2b" stroke-width="0.12" textLength="70.2" lengthAdjust="spacingAndGlyphs" >Indirect Bilirubin</text>
<text x="407.1" y="276.5" font-size="8.8" text-anchor="middle" fill="#2b2b2b" stroke="#2b2b2b" stroke-width="0.12" >OL</text>
<text x="292.2" y="391.7" font-size="10" fill="#2b2b2b" stroke="#2b2b2b" stroke-width="0.24" word-spacing="1.90" transform="rotate(-90 292.2 391.7) translate(292.2 391.7) scale(0.68 1) translate(-292.2 -391.7)">Mean (±SD) indirect bilirubin, mg/dL</text>
<rect x="311.2" y="302.3" width="2.6999999999999886" height="80.69999999999999" fill="#b3d5c8"/>
<line x1="311.2" y1="293.5" x2="311.2" y2="383" stroke="#5f9080" stroke-width="1.0" />
<line x1="309.09999999999997" y1="293.5" x2="313.3" y2="293.5" stroke="#5f9080" stroke-width="1.0" />
<line x1="309.09999999999997" y1="383" x2="313.3" y2="383" stroke="#5f9080" stroke-width="1.0" />
<line x1="313.9" y1="302.3" x2="313.9" y2="386.5" stroke="#5f9080" stroke-width="1.0" />
<line x1="311.79999999999995" y1="302.3" x2="316.0" y2="302.3" stroke="#5f9080" stroke-width="1.0" />
<line x1="311.79999999999995" y1="386.5" x2="316.0" y2="386.5" stroke="#5f9080" stroke-width="1.0" />
<line x1="341.5" y1="325.4" x2="341.5" y2="391.3" stroke="#3e6257" stroke-width="1.0" />
<line x1="339.4" y1="325.4" x2="343.6" y2="325.4" stroke="#3e6257" stroke-width="1.0" />
<line x1="339.4" y1="391.3" x2="343.6" y2="391.3" stroke="#3e6257" stroke-width="1.0" />
<line x1="373.3" y1="336.2" x2="373.3" y2="387.5" stroke="#3e6257" stroke-width="1.0" />
<line x1="371.2" y1="336.2" x2="375.40000000000003" y2="336.2" stroke="#3e6257" stroke-width="1.0" />
<line x1="371.2" y1="387.5" x2="375.40000000000003" y2="387.5" stroke="#3e6257" stroke-width="1.0" />
<line x1="405.7" y1="330" x2="405.7" y2="388.9" stroke="#3e6257" stroke-width="1.0" />
<line x1="403.59999999999997" y1="330" x2="407.8" y2="330" stroke="#3e6257" stroke-width="1.0" />
<line x1="403.59999999999997" y1="388.9" x2="407.8" y2="388.9" stroke="#3e6257" stroke-width="1.0" />
<line x1="437.3" y1="340.4" x2="437.3" y2="382.6" stroke="#3e6257" stroke-width="1.0" />
<line x1="435.2" y1="340.4" x2="439.40000000000003" y2="340.4" stroke="#3e6257" stroke-width="1.0" />
<line x1="435.2" y1="382.6" x2="439.40000000000003" y2="382.6" stroke="#3e6257" stroke-width="1.0" />
<line x1="469.6" y1="337.6" x2="469.6" y2="380.8" stroke="#3e6257" stroke-width="1.0" />
<line x1="467.5" y1="337.6" x2="471.70000000000005" y2="337.6" stroke="#3e6257" stroke-width="1.0" />
<line x1="467.5" y1="380.8" x2="471.70000000000005" y2="380.8" stroke="#3e6257" stroke-width="1.0" />
<line x1="501.5" y1="340.8" x2="501.5" y2="383.8" stroke="#3e6257" stroke-width="1.0" />
<line x1="499.4" y1="340.8" x2="503.6" y2="340.8" stroke="#3e6257" stroke-width="1.0" />
<line x1="499.4" y1="383.8" x2="503.6" y2="383.8" stroke="#3e6257" stroke-width="1.0" />
<polyline points="311.2,338 313.9,344.6 341.5,358.3 373.3,361.9 405.7,359.5 437.3,361.9 469.6,359.3 501.5,362.3" fill="none" stroke="#1b5e48" stroke-width="1.5" stroke-linejoin="round"/>
<circle cx="311.2" cy="338" r="2.25" fill="#114d3a"/>
<circle cx="313.9" cy="344.6" r="2.25" fill="#114d3a"/>
<circle cx="341.5" cy="358.3" r="2.25" fill="#114d3a"/>
<circle cx="373.3" cy="361.9" r="2.25" fill="#114d3a"/>
<circle cx="405.7" cy="359.5" r="2.25" fill="#114d3a"/>
<circle cx="437.3" cy="361.9" r="2.25" fill="#114d3a"/>
<circle cx="469.6" cy="359.3" r="2.25" fill="#114d3a"/>
<circle cx="501.5" cy="362.3" r="2.25" fill="#114d3a"/>
<circle cx="313.9" cy="297.3" r="1.2" fill="#262626"/>
<circle cx="341.5" cy="320.2" r="1.2" fill="#262626"/>
<circle cx="373.3" cy="331.3" r="1.2" fill="#262626"/>
<circle cx="405.7" cy="325.4" r="1.2" fill="#262626"/>
<circle cx="437.3" cy="335.8" r="1.2" fill="#262626"/>
<circle cx="469.6" cy="332.8" r="1.2" fill="#262626"/>
<circle cx="501.5" cy="335.8" r="1.2" fill="#262626"/>
<text x="361.4" y="304.5" font-size="6.3" text-anchor="start" fill="#2b2b2b" stroke="#2b2b2b" stroke-width="0.12" textLength="89.2" lengthAdjust="spacingAndGlyphs" >EOT mean CFB = −0.5 mg/dL</text>
<text x="309.5" y="414.2" font-size="9" text-anchor="middle" fill="#2b2b2b" stroke="#2b2b2b" stroke-width="0.12" >0</text>
<text x="341.532" y="414.2" font-size="9" text-anchor="middle" fill="#2b2b2b" stroke="#2b2b2b" stroke-width="0.12" >14</text>
<text x="373.56399999999996" y="414.2" font-size="9" text-anchor="middle" fill="#2b2b2b" stroke="#2b2b2b" stroke-width="0.12" >28</text>
<text x="405.596" y="414.2" font-size="9" text-anchor="middle" fill="#2b2b2b" stroke="#2b2b2b" stroke-width="0.12" >42</text>
<text x="437.628" y="414.2" font-size="9" text-anchor="middle" fill="#2b2b2b" stroke="#2b2b2b" stroke-width="0.12" >56</text>
<text x="469.65999999999997" y="414.2" font-size="9" text-anchor="middle" fill="#2b2b2b" stroke="#2b2b2b" stroke-width="0.12" >70</text>
<text x="501.692" y="414.2" font-size="9" text-anchor="middle" fill="#2b2b2b" stroke="#2b2b2b" stroke-width="0.12" >84/85</text>
<text x="501" y="426.3" font-size="8.5" text-anchor="middle" fill="#2b2b2b" stroke="#2b2b2b" stroke-width="0.12" >EOT</text>
<text x="391.3" y="427" font-size="9.4" fill="#2b2b2b" stroke="#2b2b2b" stroke-width="0.3" word-spacing="0.14" transform="translate(391.3 427) scale(0.695 1) translate(-391.3 -427)">Time, days</text>
<text x="290.5" y="440" font-size="8.5" text-anchor="start" fill="#2b2b2b" stroke="#2b2b2b" stroke-width="0.12" >n = 15</text>
<text x="323" y="440" font-size="8.5" text-anchor="middle" fill="#2b2b2b" stroke="#2b2b2b" stroke-width="0.12" >12</text>
<text x="341.9" y="440" font-size="8.5" text-anchor="middle" fill="#2b2b2b" stroke="#2b2b2b" stroke-width="0.12" >14</text>
<text x="373.5" y="440" font-size="8.5" text-anchor="middle" fill="#2b2b2b" stroke="#2b2b2b" stroke-width="0.12" >14</text>
<text x="405.6" y="440" font-size="8.5" text-anchor="middle" fill="#2b2b2b" stroke="#2b2b2b" stroke-width="0.12" >13</text>
<text x="437.5" y="440" font-size="8.5" text-anchor="middle" fill="#2b2b2b" stroke="#2b2b2b" stroke-width="0.12" >14</text>
<text x="469.5" y="440" font-size="8.5" text-anchor="middle" fill="#2b2b2b" stroke="#2b2b2b" stroke-width="0.12" >11</text>
<text x="501.5" y="440" font-size="8.5" text-anchor="middle" fill="#2b2b2b" stroke="#2b2b2b" stroke-width="0.12" >13</text>
<line x1="309.5" y1="490.2" x2="309.5" y2="624.3" stroke="#1a1a1a" stroke-width="1" />
<line x1="306.0" y1="493.1" x2="309.5" y2="493.1" stroke="#1a1a1a" stroke-width="1" />
<text x="303.0" y="496.3" font-size="9" text-anchor="end" fill="#2b2b2b" stroke="#2b2b2b" stroke-width="0.12" >600</text>
<line x1="306.0" y1="518.72" x2="309.5" y2="518.72" stroke="#1a1a1a" stroke-width="1" />
<text x="303.0" y="521.9200000000001" font-size="9" text-anchor="end" fill="#2b2b2b" stroke="#2b2b2b" stroke-width="0.12" >500</text>
<line x1="306.0" y1="544.34" x2="309.5" y2="544.34" stroke="#1a1a1a" stroke-width="1" />
<text x="303.0" y="547.5400000000001" font-size="9" text-anchor="end" fill="#2b2b2b" stroke="#2b2b2b" stroke-width="0.12" >400</text>
<line x1="306.0" y1="569.96" x2="309.5" y2="569.96" stroke="#1a1a1a" stroke-width="1" />
<text x="303.0" y="573.1600000000001" font-size="9" text-anchor="end" fill="#2b2b2b" stroke="#2b2b2b" stroke-width="0.12" >300</text>
<line x1="306.0" y1="595.58" x2="309.5" y2="595.58" stroke="#1a1a1a" stroke-width="1" />
<text x="303.0" y="598.7800000000001" font-size="9" text-anchor="end" fill="#2b2b2b" stroke="#2b2b2b" stroke-width="0.12" >200</text>
<line x1="306.0" y1="621.2" x2="309.5" y2="621.2" stroke="#1a1a1a" stroke-width="1" />
<text x="303.0" y="624.4000000000001" font-size="9" text-anchor="end" fill="#2b2b2b" stroke="#2b2b2b" stroke-width="0.12" >100</text>
<line x1="309.0" y1="621.5" x2="503.75" y2="621.5" stroke="#1a1a1a" stroke-width="1.1" />
<line x1="309.5" y1="621.5" x2="309.5" y2="623.7" stroke="#1a1a1a" stroke-width="0.9" />
<line x1="325.516" y1="621.5" x2="325.516" y2="623.7" stroke="#1a1a1a" stroke-width="0.9" />
<line x1="341.532" y1="621.5" x2="341.532" y2="623.7" stroke="#1a1a1a" stroke-width="0.9" />
<line x1="357.548" y1="621.5" x2="357.548" y2="623.7" stroke="#1a1a1a" stroke-width="0.9" />
<line x1="373.56399999999996" y1="621.5" x2="373.56399999999996" y2="623.7" stroke="#1a1a1a" stroke-width="0.9" />
<line x1="389.58" y1="621.5" x2="389.58" y2="623.7" stroke="#1a1a1a" stroke-width="0.9" />
<line x1="405.596" y1="621.5" x2="405.596" y2="623.7" stroke="#1a1a1a" stroke-width="0.9" />
<line x1="421.61199999999997" y1="621.5" x2="421.61199999999997" y2="623.7" stroke="#1a1a1a" stroke-width="0.9" />
<line x1="437.628" y1="621.5" x2="437.628" y2="623.7" stroke="#1a1a1a" stroke-width="0.9" />
<line x1="453.644" y1="621.5" x2="453.644" y2="623.7" stroke="#1a1a1a" stroke-width="0.9" />
<line x1="469.65999999999997" y1="621.5" x2="469.65999999999997" y2="623.7" stroke="#1a1a1a" stroke-width="0.9" />
<line x1="485.676" y1="621.5" x2="485.676" y2="623.7" stroke="#1a1a1a" stroke-width="0.9" />
<line x1="501.692" y1="621.5" x2="501.692" y2="623.7" stroke="#1a1a1a" stroke-width="0.9" />
<text x="356.1" y="484.5" font-size="10.2" text-anchor="start" fill="#2b2b2b" stroke="#2b2b2b" stroke-width="0.12" textLength="102" lengthAdjust="spacingAndGlyphs" >Lactate Dehydrogenase</text>
<text x="406.9" y="496.9" font-size="8.8" text-anchor="middle" fill="#2b2b2b" stroke="#2b2b2b" stroke-width="0.12" >OL</text>
<text x="281.8" y="590.3" font-size="10" fill="#2b2b2b" stroke="#2b2b2b" stroke-width="0.24" word-spacing="1.88" transform="rotate(-90 281.8 590.3) translate(281.8 590.3) scale(0.68 1) translate(-281.8 -590.3)">Mean (±SD) LDH, U/L</text>
<rect x="310.8" y="516.2" width="3.0" height="71.0" fill="#b3d5c8"/>
<line x1="310.8" y1="514" x2="310.8" y2="587.2" stroke="#5f9080" stroke-width="1.0" />
<line x1="308.7" y1="514" x2="312.90000000000003" y2="514" stroke="#5f9080" stroke-width="1.0" />
<line x1="308.7" y1="587.2" x2="312.90000000000003" y2="587.2" stroke="#5f9080" stroke-width="1.0" />
<line x1="313.8" y1="516.2" x2="313.8" y2="589.5" stroke="#5f9080" stroke-width="1.0" />
<line x1="311.7" y1="516.2" x2="315.90000000000003" y2="516.2" stroke="#5f9080" stroke-width="1.0" />
<line x1="311.7" y1="589.5" x2="315.90000000000003" y2="589.5" stroke="#5f9080" stroke-width="1.0" />
<line x1="341.9" y1="543.2" x2="341.9" y2="597.6" stroke="#3e6257" stroke-width="1.0" />
<line x1="339.79999999999995" y1="543.2" x2="344.0" y2="543.2" stroke="#3e6257" stroke-width="1.0" />
<line x1="339.79999999999995" y1="597.6" x2="344.0" y2="597.6" stroke="#3e6257" stroke-width="1.0" />
<line x1="373.5" y1="555.8" x2="373.5" y2="596.9" stroke="#3e6257" stroke-width="1.0" />
<line x1="371.4" y1="555.8" x2="375.6" y2="555.8" stroke="#3e6257" stroke-width="1.0" />
<line x1="371.4" y1="596.9" x2="375.6" y2="596.9" stroke="#3e6257" stroke-width="1.0" />
<line x1="405.75" y1="553.25" x2="405.75" y2="590.75" stroke="#3e6257" stroke-width="1.0" />
<line x1="403.65" y1="553.25" x2="407.85" y2="553.25" stroke="#3e6257" stroke-width="1.0" />
<line x1="403.65" y1="590.75" x2="407.85" y2="590.75" stroke="#3e6257" stroke-width="1.0" />
<line x1="437.5" y1="554.5" x2="437.5" y2="590" stroke="#3e6257" stroke-width="1.0" />
<line x1="435.4" y1="554.5" x2="439.6" y2="554.5" stroke="#3e6257" stroke-width="1.0" />
<line x1="435.4" y1="590" x2="439.6" y2="590" stroke="#3e6257" stroke-width="1.0" />
<line x1="470" y1="554.25" x2="470" y2="587" stroke="#3e6257" stroke-width="1.0" />
<line x1="467.9" y1="554.25" x2="472.1" y2="554.25" stroke="#3e6257" stroke-width="1.0" />
<line x1="467.9" y1="587" x2="472.1" y2="587" stroke="#3e6257" stroke-width="1.0" />
<line x1="502" y1="542.5" x2="502" y2="587.5" stroke="#3e6257" stroke-width="1.0" />
<line x1="499.9" y1="542.5" x2="504.1" y2="542.5" stroke="#3e6257" stroke-width="1.0" />
<line x1="499.9" y1="587.5" x2="504.1" y2="587.5" stroke="#3e6257" stroke-width="1.0" />
<polyline points="310.8,550.8 313.8,552.6 341.9,570.4 373.5,576.2 405.75,572 437.5,572.5 470,570 502,565" fill="none" stroke="#1b5e48" stroke-width="1.5" stroke-linejoin="round"/>
<circle cx="310.8" cy="550.8" r="2.25" fill="#114d3a"/>
<circle cx="313.8" cy="552.6" r="2.25" fill="#114d3a"/>
<circle cx="341.9" cy="570.4" r="2.25" fill="#114d3a"/>
<circle cx="373.5" cy="576.2" r="2.25" fill="#114d3a"/>
<circle cx="405.75" cy="572" r="2.25" fill="#114d3a"/>
<circle cx="437.5" cy="572.5" r="2.25" fill="#114d3a"/>
<circle cx="470" cy="570" r="2.25" fill="#114d3a"/>
<circle cx="502" cy="565" r="2.25" fill="#114d3a"/>
<circle cx="341.9" cy="538.1" r="1.2" fill="#262626"/>
<circle cx="373.5" cy="551.5" r="1.2" fill="#262626"/>
<circle cx="405.75" cy="548.25" r="1.2" fill="#262626"/>
<circle cx="437.5" cy="549.25" r="1.2" fill="#262626"/>
<circle cx="470" cy="549.25" r="1.2" fill="#262626"/>
<circle cx="502" cy="537.5" r="1.2" fill="#262626"/>
<text x="364.2" y="611.6" font-size="6.3" text-anchor="start" fill="#2b2b2b" stroke="#2b2b2b" stroke-width="0.12" textLength="84.6" lengthAdjust="spacingAndGlyphs" >EOT mean CFB = −38.4 U/L</text>
<text x="309.5" y="635" font-size="9" text-anchor="middle" fill="#2b2b2b" stroke="#2b2b2b" stroke-width="0.12" >0</text>
<text x="341.532" y="635" font-size="9" text-anchor="middle" fill="#2b2b2b" stroke="#2b2b2b" stroke-width="0.12" >14</text>
<text x="373.56399999999996" y="635" font-size="9" text-anchor="middle" fill="#2b2b2b" stroke="#2b2b2b" stroke-width="0.12" >28</text>
<text x="405.596" y="635" font-size="9" text-anchor="middle" fill="#2b2b2b" stroke="#2b2b2b" stroke-width="0.12" >42</text>
<text x="437.628" y="635" font-size="9" text-anchor="middle" fill="#2b2b2b" stroke="#2b2b2b" stroke-width="0.12" >56</text>
<text x="469.65999999999997" y="635" font-size="9" text-anchor="middle" fill="#2b2b2b" stroke="#2b2b2b" stroke-width="0.12" >70</text>
<text x="501.692" y="635" font-size="9" text-anchor="middle" fill="#2b2b2b" stroke="#2b2b2b" stroke-width="0.12" >84/85</text>
<text x="501" y="647.3" font-size="8.5" text-anchor="middle" fill="#2b2b2b" stroke="#2b2b2b" stroke-width="0.12" >EOT</text>
<text x="391.3" y="648.1" font-size="9.4" fill="#2b2b2b" stroke="#2b2b2b" stroke-width="0.3" word-spacing="0.14" transform="translate(391.3 648.1) scale(0.695 1) translate(-391.3 -648.1)">Time, days</text>
<text x="290.5" y="661.2" font-size="8.5" text-anchor="start" fill="#2b2b2b" stroke="#2b2b2b" stroke-width="0.12" >n = 15</text>
<text x="323" y="661.2" font-size="8.5" text-anchor="middle" fill="#2b2b2b" stroke="#2b2b2b" stroke-width="0.12" >13</text>
<text x="341.9" y="661.2" font-size="8.5" text-anchor="middle" fill="#2b2b2b" stroke="#2b2b2b" stroke-width="0.12" >15</text>
<text x="373.5" y="661.2" font-size="8.5" text-anchor="middle" fill="#2b2b2b" stroke="#2b2b2b" stroke-width="0.12" >14</text>
<text x="405.6" y="661.2" font-size="8.5" text-anchor="middle" fill="#2b2b2b" stroke="#2b2b2b" stroke-width="0.12" >13</text>
<text x="437.5" y="661.2" font-size="8.5" text-anchor="middle" fill="#2b2b2b" stroke="#2b2b2b" stroke-width="0.12" >14</text>
<text x="469.5" y="661.2" font-size="8.5" text-anchor="middle" fill="#2b2b2b" stroke="#2b2b2b" stroke-width="0.12" >13</text>
<text x="501.5" y="661.2" font-size="8.5" text-anchor="middle" fill="#2b2b2b" stroke="#2b2b2b" stroke-width="0.12" >14</text>
<rect x="0.5" y="0.5" width="519" height="680" fill="none" stroke="#444" stroke-width="1"/>
</svg></body></html>
